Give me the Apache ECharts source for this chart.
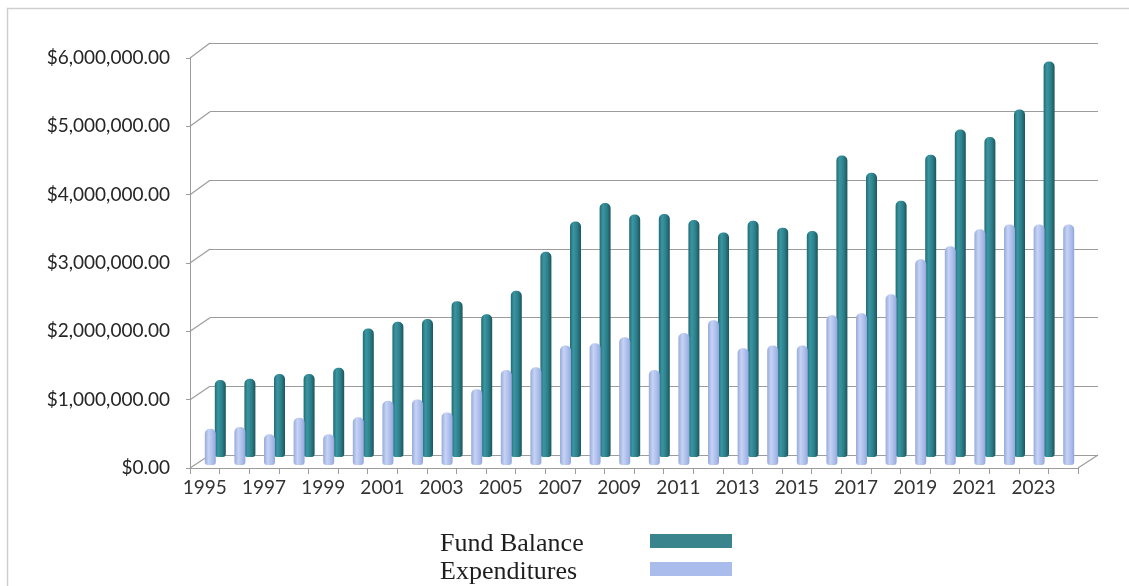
<!DOCTYPE html>
<html>
<head>
<meta charset="utf-8">
<script src="https://cdn.jsdelivr.net/npm/echarts@6/dist/echarts.min.js"></script>
<style>
  html, body { margin: 0; padding: 0; background: #fff; }
  #chart { width: 1129px; height: 586px; }
</style>
</head>
<body>
<div id="chart"></div>
<script>
// years on the floor of the 3d box
var years = ["1995", "1996", "1997", "1998", "1999", "2000", "2001", "2002", "2003", "2004",
             "2005", "2006", "2007", "2008", "2009", "2010", "2011", "2012", "2013", "2014",
             "2015", "2016", "2017", "2018", "2019", "2020", "2021", "2022", "2023", "2024"];

// dollars
var fundBalance = [1120000, 1140000, 1210000, 1210000, 1300000, 1870000, 1970000, 2010000, 2270000, 2080000,
                   2420000, 2990000, 3430000, 3700000, 3530000, 3540000, 3450000, 3270000, 3440000, 3340000,
                   3290000, 4390000, 4140000, 3730000, 4400000, 4770000, 4660000, 5060000, 5760000, null];
var expenditures = [530000, 556000, 450000, 690000, 450000, 700000, 940000, 960000, 770000, 1110000,
                    1390000, 1430000, 1750000, 1780000, 1870000, 1390000, 1930000, 2120000, 1710000, 1750000,
                    1750000, 2190000, 2220000, 2500000, 3010000, 3200000, 3450000, 3520000, 3520000, 3520000];

var yTicks = [0, 1000000, 2000000, 3000000, 4000000, 5000000, 6000000];

// 3d box: front plane, back wall, and the two bar rows in between
var front = { left: 190, top: 58, width: 888, height: 410 };
var back = { left: 210, top: 43, width: 888, height: 412 };
var rowExp = { left: 195.5, top: 55, width: 888, height: 410 };
var rowFund = { left: 205.5, top: 45, width: 888, height: 412 };

var gridColor = "#9c9c9c";
var fontSans = "Lato";

function money(v) {
    var s = String(Math.round(v));
    var out = "";
    while (s.length > 3) {
        out = "," + s.slice(-3) + out;
        s = s.slice(0, -3);
    }
    return "$" + s + out + ".00";
}

function hiddenX(idx) {
    return { type: "category", gridIndex: idx, data: years, show: false, boundaryGap: true };
}
function hiddenY(idx) {
    return { type: "value", gridIndex: idx, min: 0, max: 6000000, interval: 1000000, show: false, splitLine: { show: false } };
}

var tealGrad = new echarts.graphic.LinearGradient(0, 0, 1, 0, [
    { offset: 0, color: "#246a73" },
    { offset: 0.3, color: "#3996a2" },
    { offset: 0.65, color: "#2c808b" },
    { offset: 1, color: "#1c555d" }
]);
var blueGrad = new echarts.graphic.LinearGradient(0, 0, 1, 0, [
    { offset: 0, color: "#97aadb" },
    { offset: 0.35, color: "#c6d3f4" },
    { offset: 0.75, color: "#a9bbea" },
    { offset: 1, color: "#93a6d8" }
]);

var chart = echarts.init(document.getElementById("chart"));

var option = {
    animation: false,
    backgroundColor: "#fff",
    grid: [front, back, rowFund, rowExp],
    xAxis: [
        {
            type: "category",
            gridIndex: 0,
            data: years,
            boundaryGap: true,
            axisLine: { show: true, lineStyle: { color: gridColor } },
            axisTick: { show: true, interval: 0, length: 6, lineStyle: { color: gridColor } },
            axisLabel: { interval: 1, margin: 10, color: "#333", fontFamily: fontSans, fontSize: 19 }
        },
        hiddenX(1),
        hiddenX(2),
        hiddenX(3)
    ],
    yAxis: [
        {
            type: "value",
            gridIndex: 0,
            min: 0,
            max: 6000000,
            interval: 1000000,
            axisLine: { show: true, lineStyle: { color: gridColor } },
            axisTick: { show: true, length: 4, lineStyle: { color: gridColor } },
            splitLine: { show: false },
            axisLabel: { margin: 20, color: "#262626", fontFamily: fontSans, fontSize: 19, formatter: money }
        },
        {
            type: "value",
            gridIndex: 1,
            min: 0,
            max: 6000000,
            interval: 1000000,
            axisLine: { show: false },
            axisTick: { show: false },
            axisLabel: { show: false },
            splitLine: { show: true, lineStyle: { color: gridColor, width: 1.2 } }
        },
        hiddenY(2),
        hiddenY(3)
    ],
    legend: {
        orient: "vertical",
        left: 440,
        top: 525,
        height: 80,
        padding: 0,
        align: "right",
        itemWidth: 82,
        itemHeight: 14,
        itemGap: -4,
        icon: "rect",
        formatter: function (name) { return "{a|" + name + "}"; },
        textStyle: {
            rich: {
                a: { width: 205, align: "left", fontFamily: "Liberation Serif", fontSize: 26, lineHeight: 24, padding: [6, 0, 0, 0], color: "#1e1e1e" }
            }
        },
        data: [
            { name: "Fund Balance", itemStyle: { color: "#3a848d" } },
            { name: "Expenditures", itemStyle: { color: "#a9bcec" } }
        ]
    },
    series: [
        {
            name: "Fund Balance",
            type: "bar",
            xAxisIndex: 2,
            yAxisIndex: 2,
            data: fundBalance,
            barWidth: 11,
            z: 3,
            itemStyle: { color: tealGrad, borderRadius: [5, 5, 3, 3] }
        },
        {
            name: "Expenditures",
            type: "bar",
            xAxisIndex: 3,
            yAxisIndex: 3,
            data: expenditures,
            barWidth: 11,
            z: 4,
            itemStyle: { color: blueGrad, borderRadius: [5, 5, 3, 3] }
        }
    ]
};

chart.setOption(option);

// the slanted edges of the 3d box, front axis -> back wall
var edges = [];
yTicks.forEach(function (v) {
    var yf = chart.convertToPixel({ yAxisIndex: 0 }, v);
    var yb = chart.convertToPixel({ yAxisIndex: 1 }, v);
    edges.push({
        type: "line",
        shape: { x1: front.left, y1: yf, x2: back.left, y2: yb },
        style: { stroke: gridColor, lineWidth: 1.2 },
        z: 1
    });
});
// right edge of the floor
var yf0 = chart.convertToPixel({ yAxisIndex: 0 }, 0);
var yb0 = chart.convertToPixel({ yAxisIndex: 1 }, 0);
edges.push({
    type: "line",
    shape: { x1: front.left + front.width, y1: yf0, x2: back.left + back.width, y2: yb0 },
    style: { stroke: gridColor, lineWidth: 1.2 },
    z: 1
});
// frame around the picture
edges.push({
    type: "rect",
    shape: { x: 7.5, y: 8.5, width: 1140, height: 600 },
    style: { fill: null, stroke: "#cfcfcf", lineWidth: 1.5 },
    z: 0
});

chart.setOption({ graphic: edges });
</script>
</body>
</html>
